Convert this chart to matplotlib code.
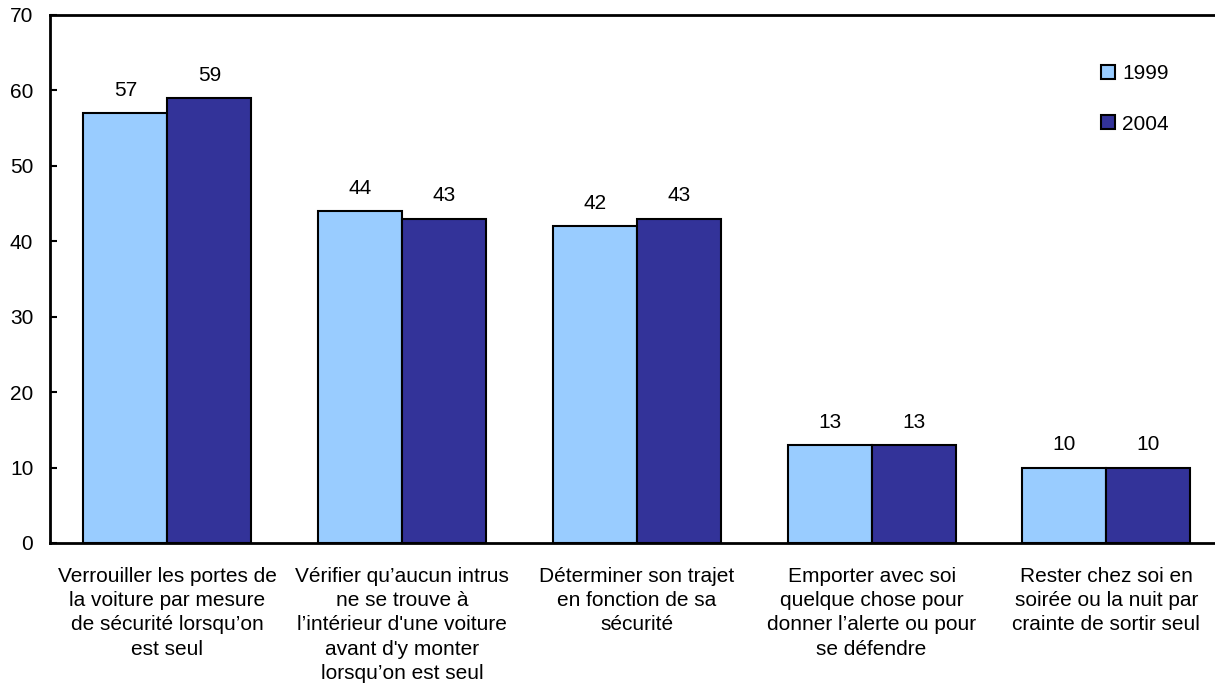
import matplotlib
matplotlib.use("Agg")
import matplotlib.pyplot as plt
import numpy as np

categories = [
    "Verrouiller les portes de\nla voiture par mesure\nde sécurité lorsqu’on\nest seul",
    "Vérifier qu’aucun intrus\nne se trouve à\nl’intérieur d'une voiture\navant d'y monter\nlorsqu’on est seul",
    "Déterminer son trajet\nen fonction de sa\nsécurité",
    "Emporter avec soi\nquelque chose pour\ndonner l’alerte ou pour\nse défendre",
    "Rester chez soi en\nsoirée ou la nuit par\ncrainte de sortir seul",
]
series_names = ["1999", "2004"]
values_1999 = [57, 44, 42, 13, 10]
values_2004 = [59, 43, 43, 13, 10]
yticks = [0, 10, 20, 30, 40, 50, 60, 70]

plt.rcParams['font.family'] = ['Liberation Sans', 'DejaVu Sans']
fs = 15

W, H = 1215, 692
fig = plt.figure(figsize=(W / 100, H / 100), dpi=100)
left_px, right_px = 50, 1215
top_px, bot_px = 15, 543
ax = fig.add_axes([left_px / W, (H - bot_px) / H, (right_px - left_px) / W, (bot_px - top_px) / H])

spacing_px = 234.75
x = np.arange(len(categories))
bw = 84 / spacing_px
colors = ["#99CCFF", "#333399"]

for vals, off, col, name in [(values_1999, -bw / 2, colors[0], series_names[0]),
                             (values_2004, bw / 2, colors[1], series_names[1])]:
    bars = ax.bar(x + off, vals, width=bw, color=col, edgecolor="black", linewidth=1.5, label=name, zorder=3)
    for b, v in zip(bars, vals):
        ax.annotate(str(v), (b.get_x() + b.get_width() / 2, v), xytext=(0, 9.5), textcoords="offset points",
                    ha="center", va="bottom", fontsize=fs)

ax.set_xlim(-0.5, -0.5 + (right_px - left_px) / spacing_px)
ax.set_ylim(0, 70)
ax.set_yticks(yticks)
ax.set_yticklabels([str(t) for t in yticks], fontsize=fs)
ax.tick_params(axis='y', direction='in', length=5, width=1.5, pad=12)
ax.set_xticks(x)
ax.set_xticklabels(categories, fontsize=fs, linespacing=1.36)
ax.tick_params(axis='x', length=0, pad=17)
for s in ['left', 'bottom', 'top']:
    ax.spines[s].set_linewidth(2)
ax.spines['right'].set_visible(False)

leg = ax.legend(loc="upper left", bbox_to_anchor=((1093 - left_px) / (right_px - left_px), (bot_px - 56) / (bot_px - top_px)),
                frameon=False, fontsize=fs, handlelength=0.65, handleheight=0.65, handletextpad=0.35,
                labelspacing=1.5, borderaxespad=0)
for h in leg.legend_handles:
    h.set_linewidth(1.5)

fig.savefig("out.png", dpi=100)
